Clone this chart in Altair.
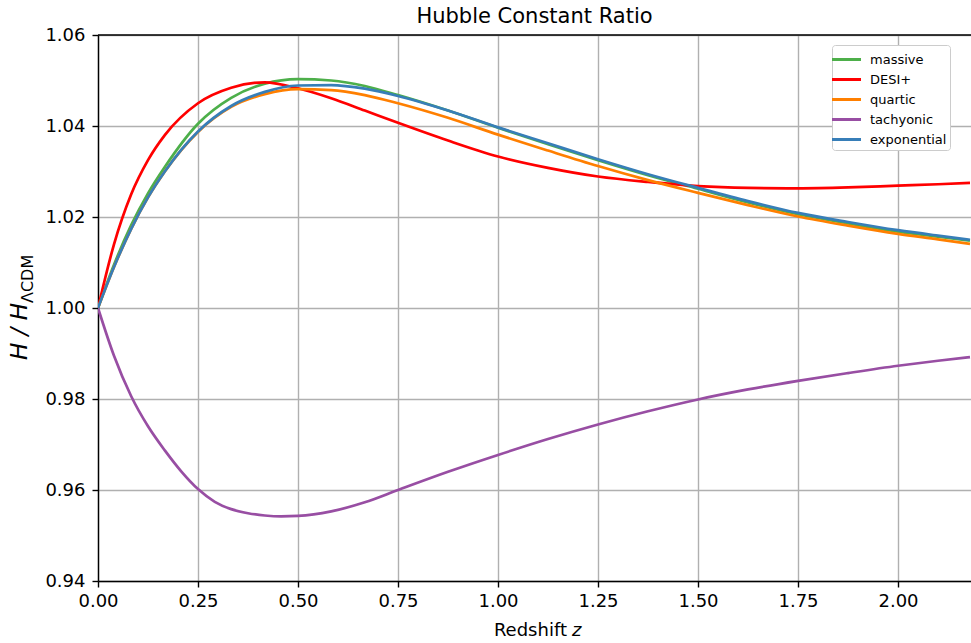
import altair as alt
import pandas as pd

z = [0.0, 0.04, 0.083, 0.125, 0.167, 0.25, 0.333, 0.417, 0.5, 0.583, 0.667, 0.75,
     0.875, 1.0, 1.125, 1.25, 1.375, 1.5, 1.625, 1.75, 1.875, 2.0, 2.1, 2.18]

massive = [1.0, 1.0095, 1.0182, 1.0252, 1.0310, 1.0405, 1.0462, 1.0493, 1.0503, 1.0500,
           1.0488, 1.0468, 1.0434, 1.0396, 1.0360, 1.0325, 1.0292, 1.0262, 1.0232,
           1.0206, 1.0186, 1.0168, 1.0157, 1.0148]
desi = [1.0, 1.0140, 1.0250, 1.0325, 1.0380, 1.0450, 1.0484, 1.0496, 1.0483, 1.0461,
        1.0434, 1.0407, 1.0368, 1.0333, 1.0308, 1.0289, 1.0277, 1.0268, 1.0264,
        1.0263, 1.0265, 1.0269, 1.0272, 1.0275]
quartic = [1.0, 1.0090, 1.0174, 1.0243, 1.0300, 1.0387, 1.0442, 1.0470, 1.0481, 1.0479,
           1.0468, 1.0450, 1.0418, 1.0381, 1.0346, 1.0312, 1.0281, 1.0253, 1.0226,
           1.0201, 1.0181, 1.0163, 1.0151, 1.0141]
exponential = [1.0, 1.0090, 1.0174, 1.0243, 1.0300, 1.0388, 1.0444, 1.0475, 1.0489, 1.0490,
               1.0482, 1.0466, 1.0434, 1.0397, 1.0362, 1.0327, 1.0294, 1.0264, 1.0235,
               1.0209, 1.0189, 1.0171, 1.0159, 1.0150]

# tachyonic read on a finer grid near its minimum
z_tach = [0.0, 0.04, 0.083, 0.125, 0.167, 0.208, 0.25, 0.292, 0.333, 0.375, 0.417, 0.458,
          0.5, 0.583, 0.667, 0.75, 0.875, 1.0, 1.125, 1.25, 1.375, 1.5, 1.625, 1.75,
          1.875, 2.0, 2.1, 2.18]
tachyonic = [1.0, 0.9895, 0.9806, 0.9740, 0.9687, 0.9641, 0.9602, 0.9574, 0.9558, 0.9549,
             0.9544, 0.9542, 0.9543, 0.9553, 0.9573, 0.9600, 0.9640, 0.9677, 0.9712,
             0.9744, 0.9773, 0.9799, 0.9821, 0.9840, 0.9857, 0.9873, 0.9884, 0.9892]

names = ["massive", "DESI+", "quartic", "tachyonic", "exponential"]
series = [(z, massive), (z, desi), (z, quartic), (z_tach, tachyonic), (z, exponential)]
colors = ["#4daf4a", "#ff0000", "#ff7f00", "#984ea3", "#377eb8"]

x_ticks = [0.0, 0.25, 0.5, 0.75, 1.0, 1.25, 1.5, 1.75, 2.0]
y_ticks = [0.94, 0.96, 0.98, 1.00, 1.02, 1.04, 1.06]

rows = []
for n, (zs, vals) in zip(names, series):
    for zi, v in zip(zs, vals):
        rows.append({"model": n, "z": zi, "ratio": v})
df = pd.DataFrame(rows)

W, H = 873, 546
FONT = "DejaVu Sans"

lines = alt.Chart(df).mark_line(strokeWidth=2.7, interpolate="monotone", clip=True).encode(
    x=alt.X("z:Q", scale=alt.Scale(domain=[0, 2.1825], nice=False, zero=False),
            axis=alt.Axis(values=x_ticks, format=".2f", title=None)),
    y=alt.Y("ratio:Q", scale=alt.Scale(domain=[0.94, 1.06], nice=False, zero=False),
            axis=alt.Axis(values=y_ticks, format=".2f", title=None)),
    color=alt.Color("model:N", scale=alt.Scale(domain=names, range=colors),
                    legend=alt.Legend(title=None, orient="none", legendX=734, legendY=10)),
)

top_rule = alt.Chart(pd.DataFrame({"k": [0]})).mark_rule(color="black", strokeWidth=1.4).encode(
    x=alt.value(0), x2=alt.value(W), y=alt.value(0)
)

title_txt = alt.Chart(pd.DataFrame({"t": ["Hubble Constant Ratio"]})).mark_text(
    font=FONT, fontSize=21, align="center", baseline="alphabetic", color="black"
).encode(x=alt.value(W / 2), y=alt.value(-12), text="t:N")

xlab1 = alt.Chart(pd.DataFrame({"t": ["Redshift"]})).mark_text(
    font=FONT, fontSize=18, align="right", baseline="alphabetic", color="black"
).encode(x=alt.value(469), y=alt.value(601), text="t:N")
xlab2 = alt.Chart(pd.DataFrame({"t": ["z"]})).mark_text(
    font=FONT, fontSize=18, fontStyle="italic", align="left", baseline="alphabetic", color="black"
).encode(x=alt.value(474), y=alt.value(601), text="t:N")

ylab1 = alt.Chart(pd.DataFrame({"t": ["H / H"]})).mark_text(
    font=FONT, fontSize=23, fontStyle="italic", align="left", baseline="alphabetic",
    angle=270, color="black"
).encode(x=alt.value(-71), y=alt.value(325), text="t:N")
ylab2 = alt.Chart(pd.DataFrame({"t": ["ΛCDM"]})).mark_text(
    font=FONT, fontSize=16, align="left", baseline="alphabetic",
    angle=270, color="black"
).encode(x=alt.value(-65), y=alt.value(268), text="t:N")

chart = alt.layer(lines, top_rule, title_txt, xlab1, xlab2, ylab1, ylab2).properties(
    width=W, height=H,
    background="white",
    autosize=alt.AutoSizeParams(type="none"),
    padding={"left": 98, "top": 35, "right": 0, "bottom": 62},
).configure_view(stroke=None).configure_axis(
    labelFont=FONT, labelFontSize=18, labelColor="black",
    domainColor="black", domainWidth=1.4,
    tickColor="black", tickWidth=1.4, tickSize=6,
    gridColor="#b0b0b0", gridWidth=1.4, grid=True,
    labelFlush=False, labelOverlap=False,
).configure_axisX(labelPadding=5).configure_axisY(labelPadding=7).configure_legend(
    labelFont=FONT, labelFontSize=13, labelColor="black",
    symbolType="M-1.45,0H1.45", symbolStrokeWidth=3, symbolSize=400,
    padding=3, strokeColor="#cccccc", fillColor="white", cornerRadius=3,
    labelOffset=12, rowPadding=1,
)

chart.save("out.html", embed_options={"renderer": "svg", "actions": False})
